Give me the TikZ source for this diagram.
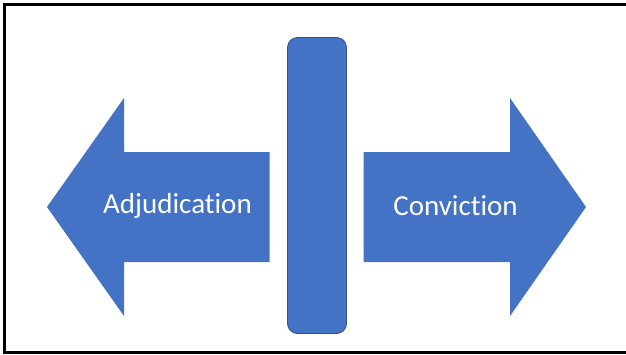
\documentclass[tikz,border=0pt]{standalone}
\usepackage{fontspec}
\setmainfont[Ligatures=NoCommon]{Carlito}
\definecolor{accblue}{HTML}{4472C4}
\definecolor{barline}{HTML}{2F528F}
\begin{document}
\begin{tikzpicture}[x=1pt,y=-1pt,
  arrowshape/.style={fill=accblue,draw=none},
  label/.style={text=white,font=\fontsize{29}{34}\selectfont,inner sep=0pt},
  frame/.style={draw=black,line width=3pt}]
\useasboundingbox (0,0) rectangle (626,354);
\fill[white] (0,0) rectangle (626,354);
% frame (left, top, bottom)
\draw[frame] (626,4) -- (4.5,4) -- (4.5,352.5) -- (626,352.5);
% left arrow
\fill[arrowshape] (47,207) -- (124,98) -- (124,152) -- (269.5,152) -- (269.5,262) -- (124,262) -- (124,316) -- cycle;
% right arrow
\fill[arrowshape] (586,207) -- (510,98) -- (510,152) -- (363.5,152) -- (363.5,262) -- (510,262) -- (510,316) -- cycle;
% bar
\draw[fill=accblue,draw=barline,line width=0.8pt,rounded corners=10pt] (287.5,37.5) rectangle (346.5,333.5);
\node[label] (adj) at (177.5,206) {Adjudication};
\node[label] (con) at (455.5,206) {Conviction};
\end{tikzpicture}
\end{document}
